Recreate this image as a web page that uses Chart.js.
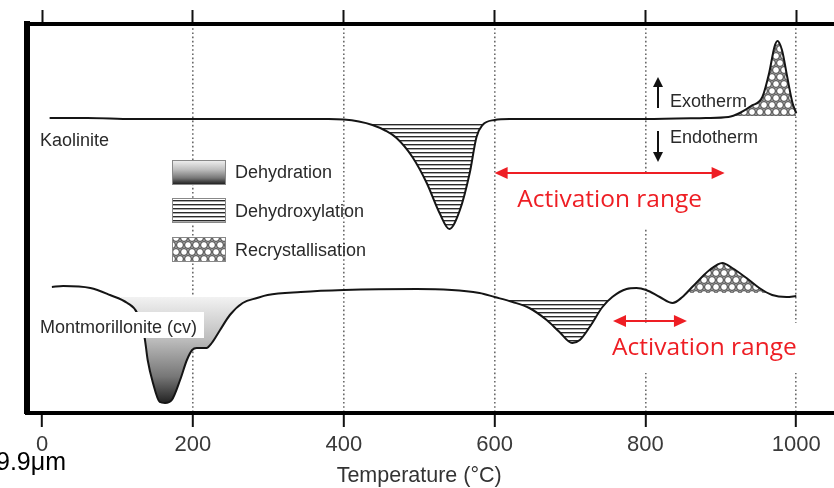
<!DOCTYPE html>
<html>
<head>
<meta charset="utf-8">
<script src="https://cdn.jsdelivr.net/npm/chart.js@4.4.1/dist/chart.umd.min.js"></script>
<style>
  html, body { margin: 0; padding: 0; background: #fff; }
  #wrap { position: relative; width: 834px; height: 488px; }
</style>
</head>
<body>
<div id="wrap"><canvas id="dta"></canvas></div>
<script>
// Temperature axis ticks (°C)
const tempTicks = [0, 200, 400, 600, 800, 1000];

// Kaolinite DTA trace: temperature (°C) and signal (arbitrary units)
const kaoTemp = [10, 60, 120, 200, 300, 380, 400, 420, 438, 455, 470, 491, 510, 527, 540, 554, 567, 576, 584, 600,
                 620, 700, 800, 880, 910, 925, 940, 955, 964, 971, 975, 981, 988, 995, 1000];
const kaoSignal = [295, 295, 294, 294, 294, 294, 293.5, 291.5, 288, 282.5, 275, 256, 230, 200, 184, 203, 240, 276, 288, 293,
                   294, 294, 294, 295, 296, 300, 307, 316, 340, 366, 372, 363, 336, 310, 300];

// Montmorillonite (cv) DTA trace
const monTemp = [13, 28, 64, 90, 113, 126, 136, 140, 147, 156, 163, 172, 183, 192, 199, 205, 218, 225, 236, 249,
                 266, 285, 299, 343, 400, 497, 580, 600, 624, 646, 669, 686, 703, 713, 726, 743, 756, 775, 788, 801,
                 819, 836, 849, 862, 885, 902, 915, 934, 951, 968, 987, 1000];
const monSignal = [126, 127, 125, 118, 110, 100, 75, 53, 30, 11, 10, 13, 33, 53, 63, 65, 65, 70, 83, 98,
                   110, 115, 118, 121, 123, 124, 120, 116, 111, 105, 93, 81, 70, 73, 86, 106, 116, 124, 125, 123,
                   116, 110, 116, 126, 143, 150, 145, 135, 125, 118, 116, 117];

// Shaded reaction zones: temperature window and the level the shading hangs from
const kaoDehydroxRange = [420, 600];
const kaoDehydroxLevel = 289;
const kaoRecrystRange = [880, 1000];
const kaoRecrystLevel = 297;
const monDehydRange = [64, 343];
const monDehydLevel = 116;
const monDehydroxRange = [580, 788];
const monDehydroxLevel = 115;
const monRecrystRange = [836, 987];
const monRecrystLevel = 120;

// Activation ranges (°C) and the signal height the arrows sit at
const actRangeTop = [600, 905];
const actLevelTop = 240;
const actRangeBottom = [757, 855];
const actLevelBottom = 92;

const RED = 'rgb(238, 30, 36)';
const INK = '#2a2a2a';
const NONE = 'rgba(0,0,0,0)';

// Fill patterns
function makeHatch() {
    const c = document.createElement('canvas');
    c.width = 8; c.height = 4;
    const g = c.getContext('2d');
    g.fillStyle = '#fff';
    g.fillRect(0, 0, 8, 4);
    g.fillStyle = '#2a2a2a';
    g.fillRect(0, 0, 8, 1.4);
    return g.createPattern(c, 'repeat');
}

function makeCells() {
    const c = document.createElement('canvas');
    c.width = 8; c.height = 14;
    const g = c.getContext('2d');
    g.fillStyle = '#9a9a9a';
    g.fillRect(0, 0, 8, 14);
    g.fillStyle = '#fff';
    g.strokeStyle = '#333';
    g.lineWidth = 0.9;
    [[0, 0], [8, 0], [4, 7], [0, 14], [8, 14]].forEach(([cx, cy]) => {
        g.beginPath();
        g.arc(cx, cy, 3.4, 0, Math.PI * 2);
        g.fill();
        g.stroke();
    });
    return g.createPattern(c, 'repeat');
}

const hatch = makeHatch();
const cells = makeCells();

function dehydGradient(ctx, y0, y1) {
    const g = ctx.createLinearGradient(0, y0, 0, y1);
    g.addColorStop(0, '#f2f2f2');
    g.addColorStop(0.4, '#bdbdbd');
    g.addColorStop(0.75, '#777');
    g.addColorStop(1, '#222');
    return g;
}

function toPoints(temps, vals, range) {
    const pts = [];
    temps.forEach((t, i) => {
        if (!range || (t >= range[0] && t <= range[1])) pts.push({ x: t, y: vals[i] });
    });
    return pts;
}

function zone(label, temps, vals, range, level, side, color) {
    return {
        label: label,
        data: toPoints(temps, vals, range),
        borderWidth: 0,
        borderColor: NONE,
        pointRadius: 0,
        cubicInterpolationMode: 'monotone',
        backgroundColor: color,
        fill: side === 'below'
            ? { target: { value: level }, above: NONE }
            : { target: { value: level }, below: NONE },
        order: 1
    };
}

function curve(label, temps, vals) {
    return {
        label: label,
        data: toPoints(temps, vals),
        borderColor: '#151515',
        borderWidth: 2,
        pointRadius: 0,
        fill: false,
        cubicInterpolationMode: 'monotone',
        order: 0
    };
}

function arrowHead(ctx, x, y, dx, dy, len, half) {
    ctx.beginPath();
    ctx.moveTo(x, y);
    ctx.lineTo(x - dx * len - dy * half, y - dy * len + dx * half);
    ctx.lineTo(x - dx * len + dy * half, y - dy * len - dx * half);
    ctx.closePath();
    ctx.fill();
}

// Labels, legend and arrows drawn on top of the traces
const annotations = {
    id: 'annotations',
    afterDatasetsDraw(chart) {
        const ctx = chart.ctx;
        const xs = chart.scales.x;
        const ys = chart.scales.y;
        ctx.save();

        // trace names
        ctx.font = '18px "Liberation Sans", Arial, sans-serif';
        ctx.textBaseline = 'alphabetic';
        ctx.fillStyle = INK;
        ctx.fillText('Kaolinite', 40, 146);
        ctx.fillStyle = '#fff';
        ctx.fillRect(37, 312, 167, 26);
        ctx.fillStyle = INK;
        ctx.fillText('Montmorillonite (cv)', 40, 333);

        // legend swatches
        const sx = 172, sw = 53, sh = 24;
        ctx.fillStyle = dehydGradient(ctx, 160, 184);
        ctx.fillRect(sx, 160, sw, sh);
        ctx.fillStyle = hatch;
        ctx.fillRect(sx, 198, sw, sh);
        ctx.fillStyle = cells;
        ctx.fillRect(sx, 237, sw, sh);
        ctx.strokeStyle = '#888';
        ctx.lineWidth = 1;
        [160, 198, 237].forEach(y => ctx.strokeRect(sx + 0.5, y + 0.5, sw, sh));

        ctx.fillStyle = INK;
        ctx.fillText('Dehydration', 235, 178);
        ctx.fillText('Dehydroxylation', 235, 217);
        ctx.fillText('Recrystallisation', 235, 256);

        // exotherm / endotherm
        ctx.fillText('Exotherm', 670, 107);
        ctx.fillText('Endotherm', 670, 143);
        ctx.strokeStyle = '#111';
        ctx.fillStyle = '#111';
        ctx.lineWidth = 2;
        ctx.beginPath();
        ctx.moveTo(658, 108); ctx.lineTo(658, 86);
        ctx.moveTo(658, 131); ctx.lineTo(658, 153);
        ctx.stroke();
        arrowHead(ctx, 658, 77, 0, -1, 10, 5);
        arrowHead(ctx, 658, 162, 0, 1, 10, 5);

        // activation ranges
        const tA = xs.getPixelForValue(actRangeTop[0]);
        const tB = xs.getPixelForValue(actRangeTop[1]);
        const tY = ys.getPixelForValue(actLevelTop);
        const bA = xs.getPixelForValue(actRangeBottom[0]);
        const bB = xs.getPixelForValue(actRangeBottom[1]);
        const bY = ys.getPixelForValue(actLevelBottom);

        ctx.fillStyle = '#fff';
        ctx.fillRect(tA + 8, tY + 2, tB - tA - 8, 53);
        ctx.fillRect(bA - 8, bY + 2, 200, 50);

        ctx.strokeStyle = RED;
        ctx.fillStyle = RED;
        ctx.lineWidth = 2;
        [[tA, tB, tY], [bA, bB, bY]].forEach(([a, b, y]) => {
            ctx.beginPath();
            ctx.moveTo(a + 8, y); ctx.lineTo(b - 8, y);
            ctx.stroke();
            arrowHead(ctx, a, y, -1, 0, 13, 6);
            arrowHead(ctx, b, y, 1, 0, 13, 6);
        });
        ctx.font = '24.5px "Open Sans", sans-serif';
        ctx.textAlign = 'center';
        ctx.fillText('Activation range', (tA + tB) / 2, 207);
        ctx.textAlign = 'left';
        ctx.fillText('Activation range', bA - 1, 355);

        // axis title and stray scale text
        ctx.fillStyle = '#333';
        ctx.font = '21.5px "Liberation Sans", Arial, sans-serif';
        ctx.textAlign = 'center';
        ctx.fillText('Temperature (°C)', xs.getPixelForValue(500), 482);
        ctx.fillStyle = '#000';
        ctx.font = '25px "Liberation Sans", Arial, sans-serif';
        ctx.textAlign = 'left';
        ctx.fillText('9.9\u03bcm', -4, 470);

        ctx.restore();
    }
};

const tickList = (scale) => { scale.ticks = tempTicks.map(v => ({ value: v })); };

new Chart(document.getElementById('dta'), {
    type: 'line',
    data: {
        datasets: [
            curve('Kaolinite', kaoTemp, kaoSignal),
            curve('Montmorillonite (cv)', monTemp, monSignal),
            zone('Kaolinite dehydroxylation', kaoTemp, kaoSignal, kaoDehydroxRange, kaoDehydroxLevel, 'below', hatch),
            zone('Kaolinite recrystallisation', kaoTemp, kaoSignal, kaoRecrystRange, kaoRecrystLevel, 'above', cells),
            zone('Montmorillonite dehydration', monTemp, monSignal, monDehydRange, monDehydLevel, 'below', (c) => {
                const chart = c.chart;
                if (!chart.chartArea) return NONE;
                const ys = chart.scales.y;
                return dehydGradient(chart.ctx, ys.getPixelForValue(monDehydLevel), ys.getPixelForValue(Math.min(...monSignal)));
            }),
            zone('Montmorillonite dehydroxylation', monTemp, monSignal, monDehydroxRange, monDehydroxLevel, 'below', hatch),
            zone('Montmorillonite recrystallisation', monTemp, monSignal, monRecrystRange, monRecrystLevel, 'above', cells)
        ]
    },
    options: {
        responsive: true,
        maintainAspectRatio: false,
        animation: false,
        layout: { padding: 0 },
        plugins: {
            legend: { display: false },
            tooltip: { enabled: false }
        },
        scales: {
            x: {
                type: 'linear',
                position: 'bottom',
                min: -20,
                max: 1050,
                afterBuildTicks: tickList,
                afterFit: (s) => { s.height = 75; },
                border: { color: '#000', width: 4, dash: [1.6, 2.6] },
                grid: {
                    color: (c) => (c.tick && c.tick.value === 0) ? NONE : '#6a6a6a',
                    lineWidth: 1.6,
                    tickColor: '#111',
                    tickWidth: 2,
                    tickLength: 14,
                    tickBorderDash: []
                },
                ticks: {
                    color: '#3a3a3a',
                    padding: 5,
                    maxRotation: 0,
                    callback: (v) => String(v),
                    font: { family: '"Liberation Sans", Arial, sans-serif', size: 22 }
                }
            },
            x2: {
                type: 'linear',
                position: 'top',
                min: -20,
                max: 1050,
                afterBuildTicks: tickList,
                afterFit: (s) => { s.height = 24; },
                border: { color: '#000', width: 4 },
                grid: {
                    drawOnChartArea: false,
                    tickColor: '#111',
                    tickWidth: 2,
                    tickLength: 14
                },
                ticks: { display: false }
            },
            y: {
                type: 'linear',
                position: 'left',
                min: 0,
                max: 389,
                afterFit: (s) => { s.width = 27; },
                border: { color: '#000', width: 6 },
                grid: { display: false },
                ticks: { display: false }
            }
        }
    },
    plugins: [annotations]
});
</script>
</body>
</html>
